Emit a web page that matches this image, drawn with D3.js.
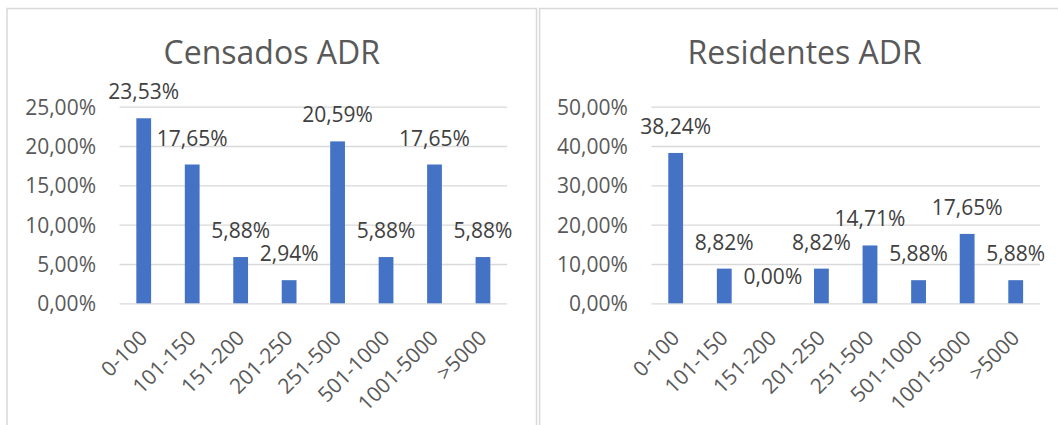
<!DOCTYPE html>
<html>
<head>
<meta charset="utf-8">
<script src="https://cdn.jsdelivr.net/npm/d3@7/dist/d3.min.js"></script>
<style>
    html, body { margin: 0; padding: 0; background: #fff; }
    svg { display: block; font-family: "Open Sans", sans-serif; }
</style>
</head>
<body>
<svg id="chart" width="1058" height="425"></svg>
<script>
var categories = ['0-100', '101-150', '151-200', '201-250', '251-500', '501-1000', '1001-5000', '>5000'];
var censadosValues = [23.53, 17.65, 5.88, 2.94, 20.59, 5.88, 17.65, 5.88];
var residentesValues = [38.24, 8.82, 0.00, 8.82, 14.71, 5.88, 17.65, 5.88];
var censadosTicks = [0, 5, 10, 15, 20, 25];
var residentesTicks = [0, 10, 20, 30, 40, 50];

var locale = d3.formatLocale({ decimal: ',', thousands: '.', grouping: [3], currency: ['', '€'] });
var pct = function (v) { return locale.format('.2f')(v) + '%'; };

var svg = d3.select('#chart');

var drawChart = function (opt) {
    var g = svg.append('g');

    // borde del panel
    g.append('rect')
        .attr('x', opt.panel[0])
        .attr('y', opt.panel[1])
        .attr('width', opt.panel[2])
        .attr('height', opt.panel[3])
        .attr('fill', '#fff')
        .attr('stroke', '#d9d9d9')
        .attr('stroke-width', 1.5);

    g.append('text')
        .attr('x', opt.panel[0] + opt.panel[2] / 2)
        .attr('y', 64)
        .attr('text-anchor', 'middle')
        .attr('fill', '#595959')
        .attr('font-size', 32)
        .text(opt.title);

    var x = d3.scaleBand()
        .domain(categories)
        .range([opt.plot[0], opt.plot[1]])
        .paddingInner(0.695)
        .paddingOuter(0.3475);

    var y = d3.scaleLinear()
        .domain([0, d3.max(opt.ticks)])
        .range([opt.plot[3], opt.plot[2]]);

    var yAxis = d3.axisLeft(y)
        .tickValues(opt.ticks)
        .tickSize(-(opt.plot[1] - opt.plot[0]))
        .tickPadding(0)
        .tickFormat(pct);

    var yg = g.append('g')
        .attr('transform', 'translate(' + opt.plot[0] + ',0)')
        .call(yAxis);
    yg.select('.domain').remove();
    yg.selectAll('.tick line')
        .attr('stroke', '#d9d9d9')
        .attr('stroke-width', 1.3);
    yg.selectAll('.tick text')
        .attr('x', -23.5)
        .attr('dy', '0.36em')
        .attr('fill', '#595959')
        .attr('font-size', 21)
        .attr('font-family', '"Open Sans", sans-serif');

    g.selectAll('.bar')
        .data(opt.values)
        .enter()
        .append('rect')
        .attr('class', 'bar')
        .attr('x', function (d, i) { return x(categories[i]); })
        .attr('y', function (d) { return y(d); })
        .attr('width', x.bandwidth())
        .attr('height', function (d) { return y(0) - y(d); })
        .attr('fill', '#4472c4');

    g.selectAll('.value')
        .data(opt.values)
        .enter()
        .append('text')
        .attr('class', 'value')
        .attr('x', function (d, i) { return x(categories[i]) + x.bandwidth() / 2; })
        .attr('y', function (d) { return y(d) - 19; })
        .attr('text-anchor', 'middle')
        .attr('fill', '#404040')
        .attr('font-size', 21)
        .text(pct);

    var xAxis = d3.axisBottom(x).tickSize(0).tickPadding(0);
    var xg = g.append('g')
        .attr('transform', 'translate(0,' + y(0) + ')')
        .call(xAxis);
    xg.select('.domain').remove();
    xg.selectAll('.tick text')
        .attr('y', 0)
        .attr('dy', 0)
        .attr('text-anchor', 'end')
        .attr('transform', 'translate(5,36) rotate(-45)')
        .attr('fill', '#595959')
        .attr('font-size', 21)
        .attr('font-family', '"Open Sans", sans-serif');
};

drawChart({
    title: 'Censados ADR',
    values: censadosValues,
    ticks: censadosTicks,
    panel: [7, 8.5, 529.5, 430],
    plot: [119.5, 507.2, 106.7, 303.3]
});

drawChart({
    title: 'Residentes ADR',
    values: residentesValues,
    ticks: residentesTicks,
    panel: [539.6, 8.5, 530, 430],
    plot: [651.4, 1040, 106.7, 303.3]
});
</script>
</body>
</html>
